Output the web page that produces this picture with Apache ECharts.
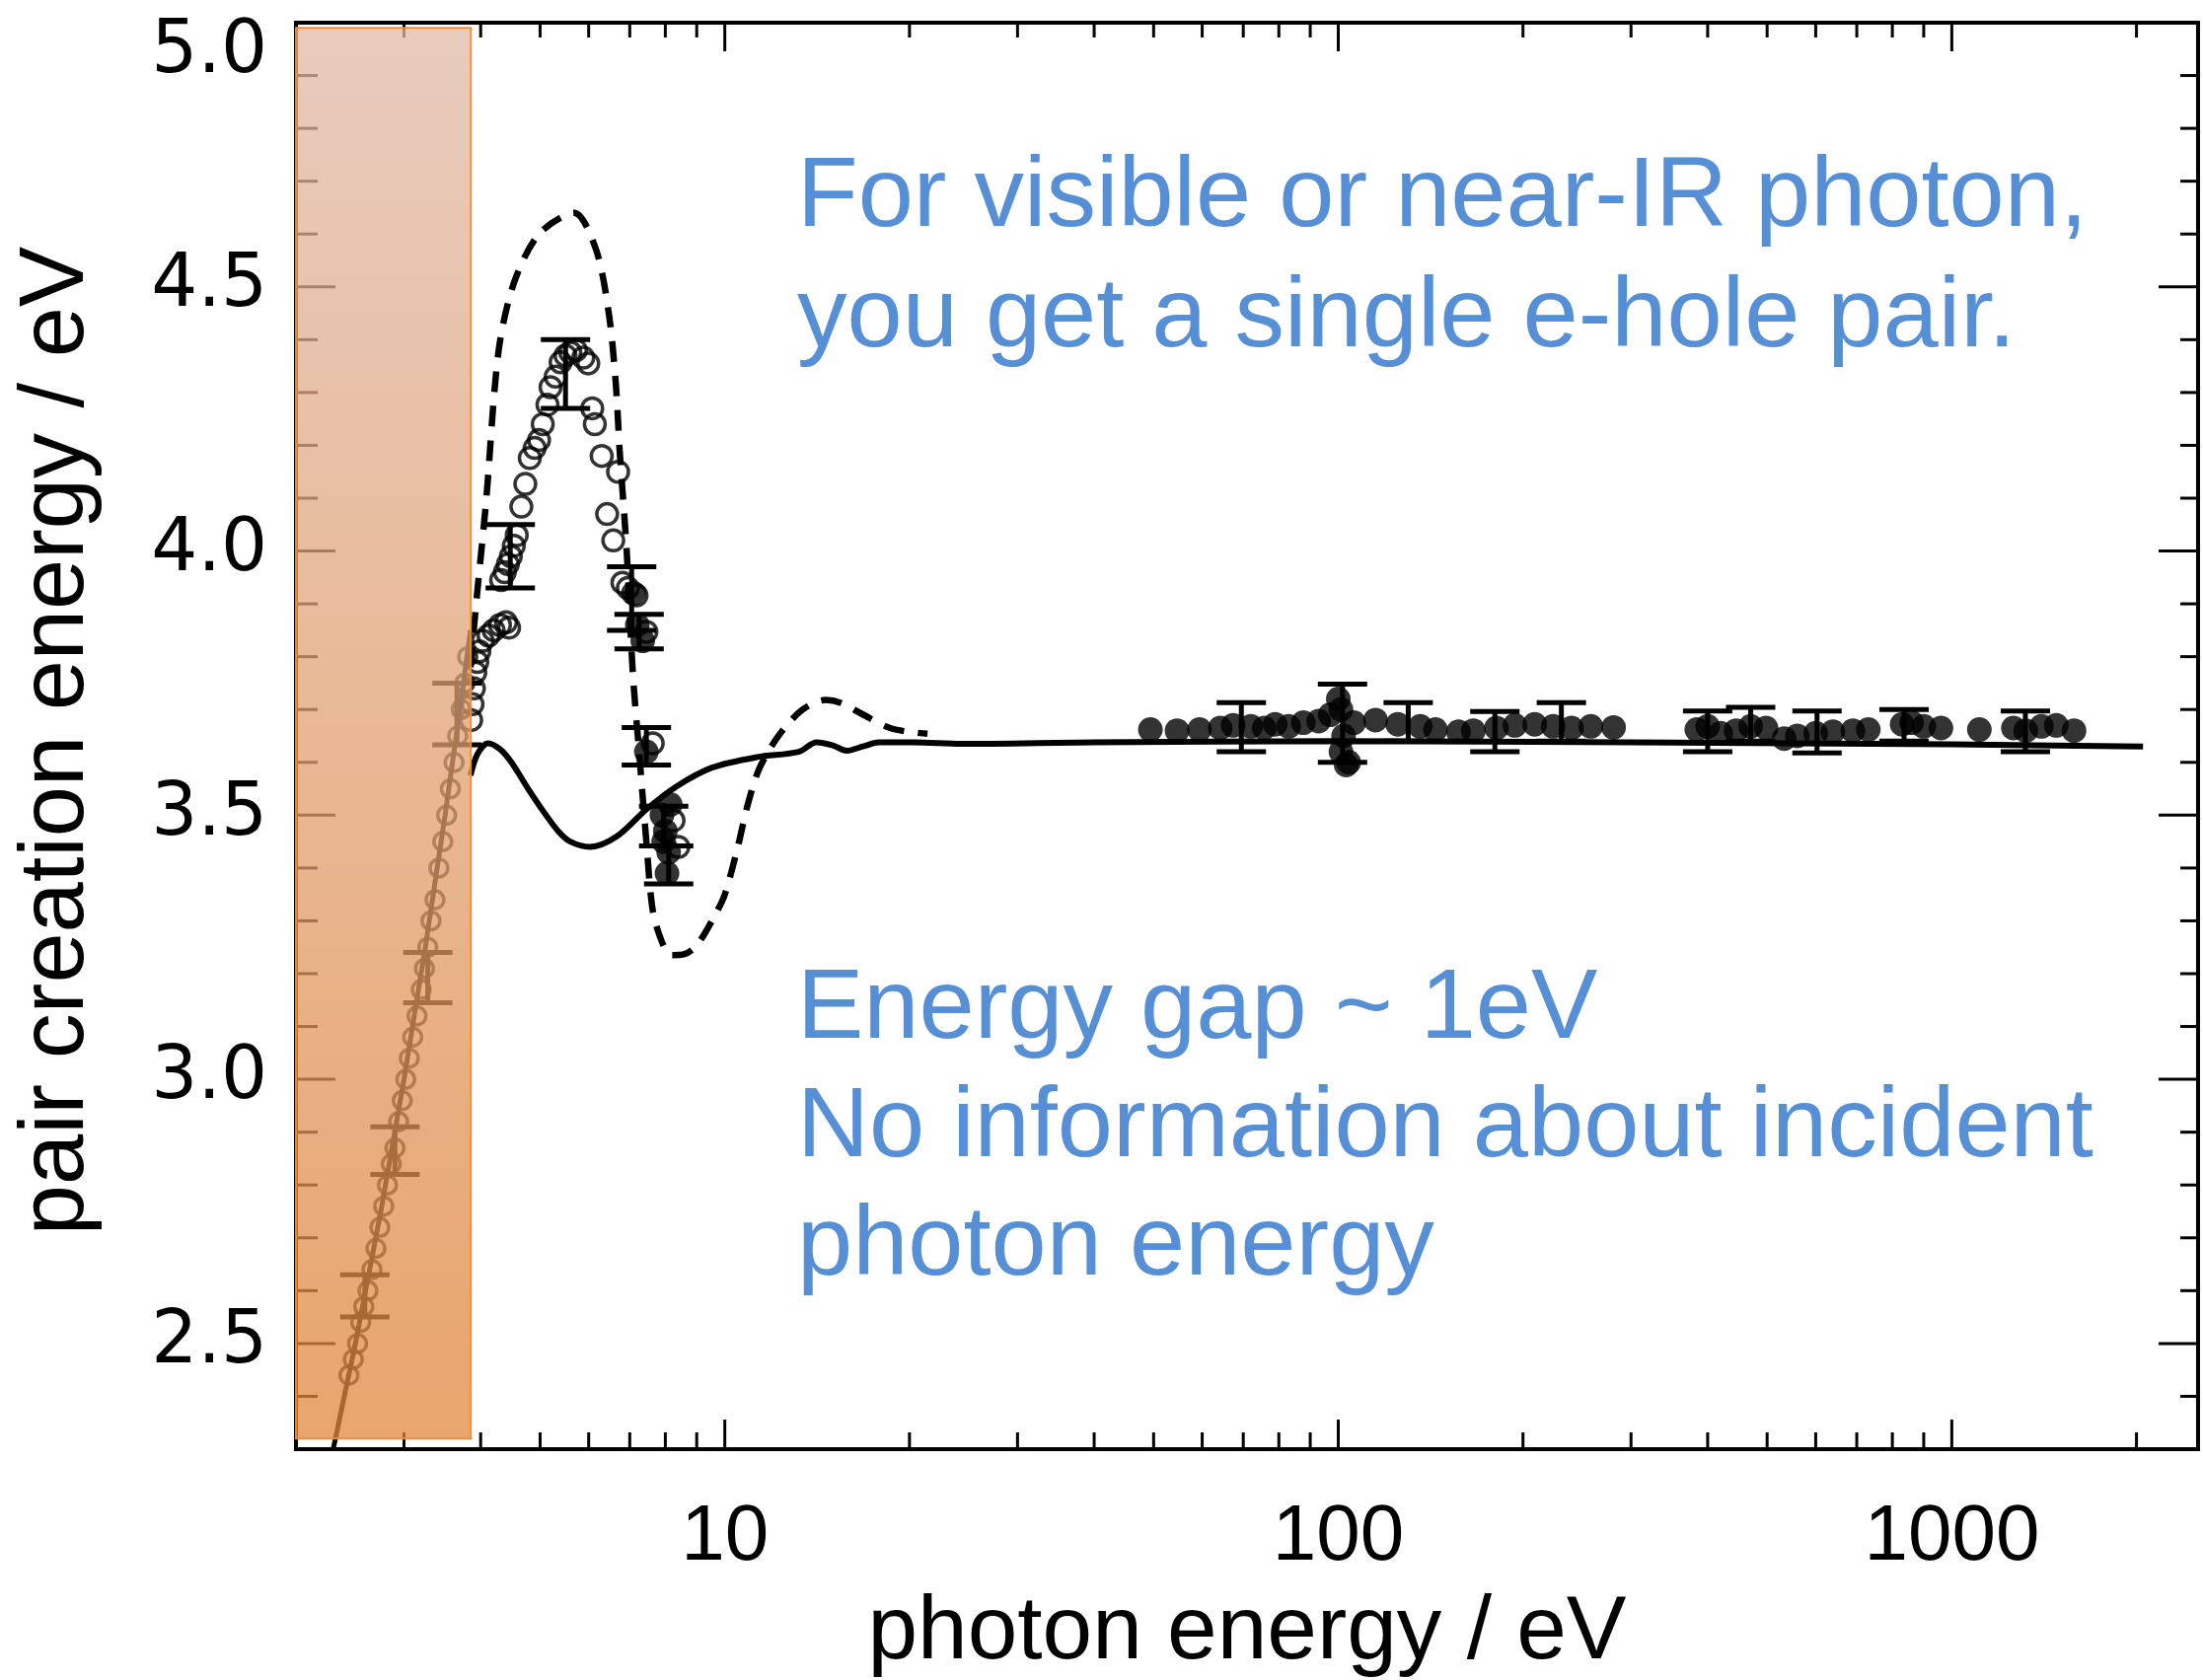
<!DOCTYPE html>
<html><head><meta charset="utf-8">
<script src="https://cdn.jsdelivr.net/npm/echarts/dist/echarts.min.js"></script>
<style>html,body{margin:0;padding:0;background:#fff}#c{width:2233px;height:1703px}</style>
</head><body><div id="c"></div>
<script>
// ---------- axes ----------
const xRange = [2, 2520];
const yRange = [2.3, 5.0];
const xTickLabels = [10, 100, 1000];
const xMinorTicks = [3,4,5,6,7,8,9,20,30,40,50,60,70,80,90,200,300,400,500,600,700,800,900,2000];
const yMajorTicks = [2.5,3.0,3.5,4.0,4.5,5.0];
const yMinorTicks = [2.4,2.6,2.7,2.8,2.9,3.1,3.2,3.3,3.4,3.6,3.7,3.8,3.9,4.1,4.2,4.3,4.4,4.6,4.7,4.8,4.9];

// ---------- shaded band (visible / near-IR region) ----------
const shadeX = [2, 3.855];
const shadeY = [2.32, 4.99];

// ---------- theory curves ----------
const solidCurve = [[3.85,3.575],[3.95,3.615],[4.11,3.636],[4.3,3.625],[4.49,3.60],[4.78,3.55],[5.07,3.506],[5.35,3.47],[5.6,3.45],[6.03,3.44],[6.67,3.46],[7.45,3.511],[8.33,3.554],[9.53,3.59],[11.3,3.61],[13.2,3.62],[14.1,3.638],[15.0,3.632],[15.8,3.622],[16.8,3.63],[17.8,3.638],[20.3,3.638],[24.3,3.635],[40,3.638],[100,3.64],[300,3.638],[1000,3.634],[2050,3.63]];
const dashedCurve = [[3.85,3.78],[3.94,3.91],[4.08,4.09],[4.28,4.38],[4.54,4.51],[4.98,4.60],[5.68,4.64],[6.17,4.57],[6.47,4.45],[6.64,4.32],[6.74,4.19],[6.92,4.0],[7.08,3.77],[7.25,3.62],[7.45,3.45],[7.63,3.32],[7.9,3.26],[8.17,3.235],[8.6,3.237],[9.02,3.255],[9.63,3.31],[10.0,3.35],[10.5,3.44],[10.9,3.52],[11.4,3.59],[12.3,3.654],[13.4,3.70],[14.6,3.718],[15.5,3.712],[16.7,3.692],[18.7,3.664],[21.4,3.654]];
const diagonalLine = [[2.3,2.3],[2.5,2.5],[2.75,2.75],[3.0,3.0],[3.25,3.25],[3.5,3.5],[3.7,3.7],[3.85,3.85]];

// ---------- measurements ----------
const diagCircles = [[2.44,2.44],[2.48,2.47],[2.52,2.5],[2.55,2.54],[2.58,2.57],[2.62,2.6],[2.66,2.64],[2.7,2.68],[2.74,2.72],[2.78,2.76],[2.82,2.8],[2.86,2.84],[2.9,2.87],[2.94,2.92],[2.98,2.96],[3.02,3.0],[3.06,3.04],[3.1,3.08],[3.15,3.12],[3.2,3.17],[3.24,3.21],[3.28,3.25],[3.32,3.3],[3.37,3.34],[3.42,3.4],[3.47,3.45],[3.52,3.5],[3.57,3.55],[3.62,3.6],[3.67,3.65],[3.72,3.7],[3.77,3.75],[3.81,3.8]];
const openCircles = [[3.86,3.68],[3.88,3.71],[3.9,3.74],[3.92,3.77],[3.95,3.79],[3.98,3.81],[4.03,3.83],[4.12,3.84],[4.2,3.85],[4.3,3.86],[4.4,3.865],[4.45,3.855],[4.32,3.945],[4.38,3.96],[4.43,3.975],[4.48,3.99],[4.53,4.01],[4.58,4.03],[4.66,4.084],[4.73,4.127],[4.81,4.176],[4.9,4.195],[4.98,4.21],[5.05,4.24],[5.14,4.277],[5.2,4.31],[5.3,4.33],[5.4,4.357],[5.5,4.37],[5.6,4.376],[5.72,4.38],[5.88,4.366],[5.99,4.355],[6.08,4.27],[6.14,4.24],[6.3,4.18],[6.7,4.15],[6.43,4.07],[6.58,4.02],[6.81,3.94],[6.95,3.93],[7.18,3.916],[7.45,3.847],[7.63,3.636],[8.4,3.44],[8.25,3.49]];
const filledDots = [[7.1,3.92],[7.2,3.86],[7.35,3.83],[7.45,3.62],[7.9,3.50],[8.0,3.47],[8.1,3.43],[8.05,3.39],[7.95,3.45],[8.15,3.52],
  [49.4,3.662],[54.6,3.66],[59.4,3.662],[64.2,3.665],[67.4,3.67],[72,3.668],[75.7,3.665],[78.9,3.672],[83,3.668],[87.7,3.675],[92.9,3.678],[97,3.69],[100,3.72],[101,3.70],[102,3.65],[101,3.62],[103,3.595],[104,3.6],[106,3.675],[115,3.68],[125,3.672],[136,3.668],[144,3.662],[157,3.658],[166,3.66],[181,3.665],[194,3.67],[209,3.672],[224,3.668],[240,3.665],[258,3.668],[281,3.666],
  [384,3.662],[400,3.668],[420,3.655],[445,3.66],[470,3.668],[498,3.665],[533,3.645],[560,3.65],[600,3.655],[640,3.658],[690,3.66],[731,3.662],[830,3.672],[860,3.675],[900,3.668],[960,3.665],[1109,3.662],[1260,3.665],[1320,3.66],[1400,3.668],[1480,3.67],[1582,3.66]];
const errPeak = [[4.47,3.93,4.05],[5.5,4.27,4.40],[7.05,3.85,3.97],[7.25,3.815,3.88],[7.45,3.595,3.666],[7.95,3.442,3.517],[8.1,3.37,3.442]];
const errDiag = [[3.66,3.633,3.75],[3.28,3.145,3.24],[2.9,2.82,2.91],[2.59,2.55,2.63]];
const errFlat = [[69.5,3.62,3.713],[101.6,3.60,3.748],[130,3.64,3.713],[180,3.62,3.696],[231,3.64,3.713],[400,3.62,3.697],[470,3.64,3.704],[603,3.618,3.697],[836,3.64,3.70],[1318,3.62,3.697]];

// ---------- texts ----------
const xAxisTitle = 'photon energy / eV';
const yAxisTitle = 'pair creation energy / eV';
const noteTop = ['For visible or near-IR photon,', 'you get a single e-hole pair.'];
const noteBottom = ['Energy gap ~ 1eV', 'No information about incident', 'photon energy'];

const chart = echarts.init(document.getElementById('c'), null, {renderer: 'canvas'});
const BLUE = '#568fd6';

function renderXTick(params, api) {
  const cs = params.coordSys;
  const px = api.coord([api.value(0), 3])[0];
  const major = api.value(1) === 1;
  const lb = major ? 30 : 17, lt = major ? 29 : 15;
  const yb = cs.y + cs.height, yt = cs.y;
  const st = {stroke: '#000', lineWidth: 3};
  return {type: 'group', children: [
    {type: 'line', shape: {x1: px, y1: yb, x2: px, y2: yb - lb}, style: st},
    {type: 'line', shape: {x1: px, y1: yt, x2: px, y2: yt + lt}, style: st}
  ]};
}
function renderYTick(params, api) {
  const cs = params.coordSys;
  const py = api.coord([10, api.value(1)])[1];
  const major = api.value(2) === 1;
  const ll = major ? 40 : 22, lr = major ? 40 : 18;
  const xl = cs.x, xr = cs.x + cs.width;
  const st = {stroke: '#000', lineWidth: 3};
  return {type: 'group', children: [
    {type: 'line', shape: {x1: xl, y1: py, x2: xl + ll, y2: py}, style: st},
    {type: 'line', shape: {x1: xr, y1: py, x2: xr - lr, y2: py}, style: st}
  ]};
}
function renderErr(params, api) {
  const x = api.value(0), lo = api.value(1), hi = api.value(2);
  const a = api.coord([x, lo]), b = api.coord([x, hi]);
  const w = 25;
  const st = {stroke: '#000', lineWidth: 5};
  return {type: 'group', children: [
    {type: 'line', shape: {x1: a[0], y1: a[1], x2: b[0], y2: b[1]}, style: st},
    {type: 'line', shape: {x1: a[0] - w, y1: a[1], x2: a[0] + w, y2: a[1]}, style: st},
    {type: 'line', shape: {x1: b[0] - w, y1: b[1], x2: b[0] + w, y2: b[1]}, style: st}
  ]};
}
function renderShade(params, api) {
  const p1 = api.coord([api.value(0), api.value(3)]);
  const p2 = api.coord([api.value(2), api.value(1)]);
  return {type: 'rect', shape: {x: p1[0], y: p1[1], width: p2[0] - p1[0], height: p2[1] - p1[1]},
    style: {
      fill: new echarts.graphic.LinearGradient(0, 0, 0, 1, [
        {offset: 0, color: 'rgba(224,186,167,0.75)'},
        {offset: 1, color: 'rgba(225,135,60,0.75)'}
      ]),
      stroke: 'rgba(240,140,50,0.95)', lineWidth: 2
    }};
}

const xTickData = xTickLabels.map(v => [v, 1]).concat(xMinorTicks.map(v => [v, 0]));
const yTickData = yMajorTicks.map(v => [10, v, 1]).concat(yMinorTicks.map(v => [10, v, 0]));

function textEl(str, x, y, size) {
  return {type: 'text', x: x, y: y, z: 100,
    style: {text: str, fill: BLUE, fontSize: size, fontFamily: '"Liberation Sans", Arial, sans-serif',
      align: 'left', verticalAlign: 'middle'}};
}

const graphics = [];
noteTop.forEach((t, i) => graphics.push(textEl(t, 808, 201 + i * 122, 101)));
noteBottom.forEach((t, i) => graphics.push(textEl(t, 808, 1024 + i * 120, 101)));
graphics.push({type: 'text', x: 1264, y: 1656, z: 100,
  style: {text: xAxisTitle, fill: '#000', fontSize: 91, fontFamily: '"Liberation Sans", Arial, sans-serif', align: 'center', verticalAlign: 'middle'}});
graphics.push({type: 'text', x: 59, y: 751, z: 100, rotation: Math.PI / 2,
  style: {text: yAxisTitle, fill: '#000', fontSize: 92, fontFamily: '"Liberation Sans", Arial, sans-serif', align: 'center', verticalAlign: 'middle'}});

const option = {
  animation: false,
  backgroundColor: '#fff',
  grid: {left: 300, right: 5, top: 23, bottom: 234, show: true, borderColor: '#000', borderWidth: 4,
    backgroundColor: 'transparent', containLabel: false, outerBoundsMode: 'none'},
  xAxis: {
    type: 'log', logBase: 10, min: xRange[0], max: xRange[1],
    axisLine: {show: false}, axisTick: {show: false}, splitLine: {show: false}, minorTick: {show: false},
    axisLabel: {
      margin: 50, color: '#000', fontSize: 80, fontFamily: '"Liberation Sans", Arial, sans-serif',
      formatter: v => {
        const r = xTickLabels.find(t => Math.abs(t - v) / t < 1e-6);
        return r ? String(r) : '';
      }
    }
  },
  yAxis: {
    type: 'value', min: yRange[0], max: yRange[1],
    axisLine: {show: false}, axisTick: {show: false}, splitLine: {show: false},
    axisLabel: {
      margin: 29, color: '#000', fontSize: 74, fontFamily: '"DejaVu Sans", sans-serif',
      formatter: v => {
        const r = yMajorTicks.find(t => Math.abs(t - v) < 1e-6);
        if (r === undefined) return '';
        if (r === yRange[1]) return '{top|' + r.toFixed(1) + '}';
        return r.toFixed(1);
      },
      rich: {top: {padding: [62, 0, 0, 0], fontSize: 74, fontFamily: '"DejaVu Sans", sans-serif', color: '#000'}}
    }
  },
  graphic: graphics,
  series: [
    {type: 'line', data: diagonalLine, showSymbol: false, smooth: false, z: 2,
      lineStyle: {color: '#000', width: 5}},
    {type: 'line', data: solidCurve, showSymbol: false, smooth: 0.3, z: 2,
      lineStyle: {color: '#000', width: 6}},
    {type: 'line', data: dashedCurve, showSymbol: false, smooth: 0.3, z: 2,
      lineStyle: {color: '#000', width: 6.5, type: [21, 14]}},
    {type: 'scatter', data: diagCircles, symbol: 'circle', symbolSize: 18, z: 3,
      itemStyle: {color: 'rgba(0,0,0,0)', borderColor: '#000', borderWidth: 3.5}},
    {type: 'scatter', data: openCircles, symbol: 'circle', symbolSize: 21, z: 3,
      itemStyle: {color: 'rgba(0,0,0,0)', borderColor: '#000', borderWidth: 3.5}},
    {type: 'scatter', data: filledDots, symbol: 'circle', symbolSize: 25, z: 3,
      itemStyle: {color: '#000'}},
    {type: 'custom', renderItem: renderErr, data: errPeak.concat(errDiag, errFlat), z: 3,
      encode: {x: 0, y: [1, 2]}},
    {type: 'custom', renderItem: renderXTick, data: xTickData, z: 4, encode: {x: 0, y: 1}, silent: true},
    {type: 'custom', renderItem: renderYTick, data: yTickData, z: 4, encode: {x: 0, y: 1}, silent: true},
    {type: 'custom', renderItem: renderShade, data: [[shadeX[0], shadeY[0], shadeX[1], shadeY[1]]], z: 10,
      encode: {x: [0, 2], y: [1, 3]}, silent: true}
  ]
};
chart.setOption(option);
</script></body></html>
